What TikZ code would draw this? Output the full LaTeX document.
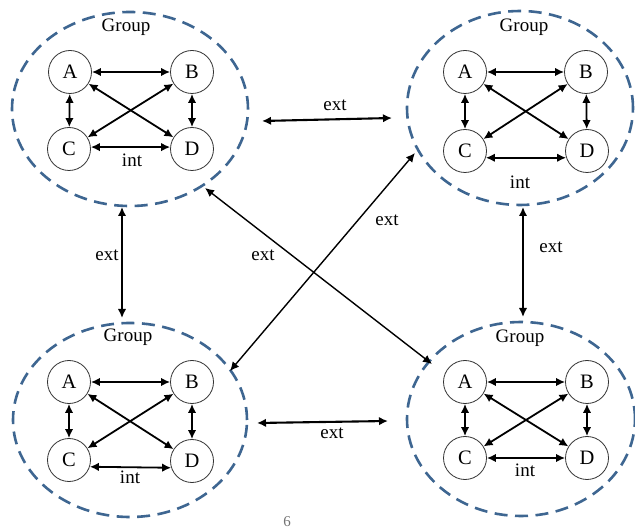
\documentclass[tikz,border=0pt]{standalone}
\usepackage{fontspec}
\setmainfont{Liberation Serif}
\usetikzlibrary{arrows.meta,shapes.geometric}
\definecolor{groupblue}{RGB}{62,102,145}
\newcommand\intarrows[1]{%
  \draw[intarr] (#1A) -- (#1B);
  \draw[intarr] (#1A) -- (#1C);
  \draw[intarr] (#1B) -- (#1D);
  \draw[intarr] (#1A) -- (#1D);
  \draw[intarr] (#1B) -- (#1C);
}
\begin{document}
\begin{tikzpicture}[x=1pt,y=-1pt,
  grp/.style={ellipse,draw=groupblue,line width=2.6pt,dash pattern=on 13pt off 7.5pt,inner sep=0pt},
  member/.style={circle,draw=black!80,line width=0.8pt,minimum size=43pt,inner sep=0pt,font=\fontsize{20.5}{24}\selectfont},
  lbl/.style={font=\fontsize{19}{22}\selectfont,inner sep=0pt},
  tip/.tip={Latex[length=9pt,width=8.5pt]},
  intarr/.style={{tip}-{tip},line width=1.8pt},
  extarr/.style={{tip}-{tip},line width=2.1pt},
  diagarr/.style={{tip}-{tip},line width=1.4pt}]
\useasboundingbox[fill=white] (0,0) rectangle (635,529);

% groups
\node[grp,minimum width=236pt,minimum height=194pt] (tl) at (130,109) {};
\node[grp,minimum width=226pt,minimum height=194pt] (tr) at (520,108) {};
\node[grp,minimum width=234pt,minimum height=194pt] (bl) at (130,420) {};
\node[grp,minimum width=228pt,minimum height=194pt] (br) at (521,419) {};

\node[lbl] (tlg) at (126,27) {Group};
\node[lbl] (trg) at (524,27) {Group};
\node[lbl] (blg) at (128,337) {Group};
\node[lbl] (brg) at (520,338) {Group};

% top-left members
\node[member] (tlA) at (70,72) {A};
\node[member] (tlB) at (192,72) {B};
\node[member] (tlC) at (69,149) {C};
\node[member] (tlD) at (192,149) {D};
\intarrows{tl}
\draw[intarr] (tlC.5) -- (tlD.175);
\node[lbl] (tlint) at (132,160) {int};

% top-right members
\node[member] (trA) at (465,72) {A};
\node[member] (trB) at (586,72) {B};
\node[member] (trC) at (465,151) {C};
\node[member] (trD) at (587,151) {D};
\intarrows{tr}
\draw[intarr] (trC.-18) -- (trD.198);
\node[lbl] (trint) at (520,182) {int};

% bottom-left members
\node[member] (blA) at (69,382) {A};
\node[member] (blB) at (192,382) {B};
\node[member] (blC) at (69,460) {C};
\node[member] (blD) at (192,461) {D};
\intarrows{bl}
\draw[intarr] (blC.-18) -- (blD.198);
\node[lbl] (blint) at (130,477) {int};

% bottom-right members
\node[member] (brA) at (465,382) {A};
\node[member] (brB) at (587,382) {B};
\node[member] (brC) at (465,458) {C};
\node[member] (brD) at (587,458) {D};
\intarrows{br}
\draw[intarr] (brC) -- (brD);
\node[lbl] (brint) at (525,470) {int};

% external connectors
\coordinate (h1a) at (262,121);
\coordinate (h1b) at (392,118);
\draw[extarr] (h1a) -- (h1b);
\node[lbl] (h1l) at (335,105) {ext};

\coordinate (h2a) at (257,423);
\coordinate (h2b) at (388,421);
\draw[extarr] (h2a) -- (h2b);
\node[lbl] (h2l) at (332,433) {ext};

\coordinate (v1a) at (122,207);
\coordinate (v1b) at (122,318);
\draw[extarr] (v1a) -- (v1b);
\node[lbl] (v1l) at (107,255) {ext};

\coordinate (v2a) at (523,207);
\coordinate (v2b) at (523,317);
\draw[extarr] (v2a) -- (v2b);
\node[lbl] (v2l) at (551,247) {ext};

\coordinate (d1a) at (230,371);
\coordinate (d1b) at (415,153);
\draw[diagarr] (d1a) -- (d1b);
\node[lbl] (d1l) at (387,220) {ext};

\coordinate (d2a) at (205,188);
\coordinate (d2b) at (432,364);
\draw[diagarr] (d2a) -- (d2b);
\node[lbl] (d2l) at (263,255) {ext};

\node[font=\fontsize{15}{18}\selectfont,text=black!55,inner sep=0pt] (page) at (287,522) {6};
\end{tikzpicture}
\end{document}
